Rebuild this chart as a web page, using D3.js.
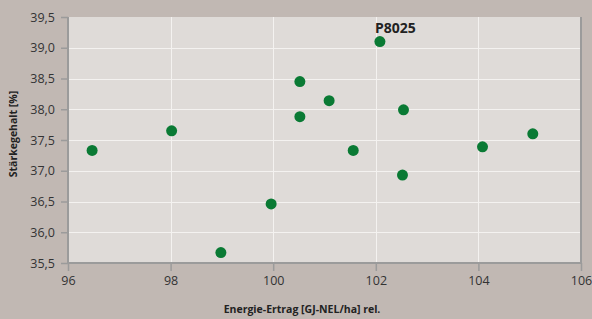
<!DOCTYPE html>
<html>
<head>
<meta charset="utf-8">
<script src="https://cdn.jsdelivr.net/npm/d3@7"></script>
<style>
  body { margin: 0; background: #c1b8b3; }
  svg { display: block; font-family: "Open Sans", sans-serif; }
</style>
</head>
<body>
<div class="container"></div>
<script>
// Energie-Ertrag (rel.) vs. Stärkegehalt
const energie = [96.47, 98.02, 98.98, 99.96, 100.52, 100.52, 101.09, 101.56, 102.08, 102.52, 102.54, 104.08, 105.06];
const staerke = [37.33, 37.65, 35.67, 36.46, 38.45, 37.88, 38.14, 37.33, 39.1, 36.93, 37.99, 37.39, 37.6];
const labels = ["", "", "", "", "", "", "", "", "P8025", "", "", "", ""];
const xTicks = [96, 98, 100, 102, 104, 106];
const yTicks = [35.5, 36, 36.5, 37, 37.5, 38, 38.5, 39, 39.5];

const width = 592;
const height = 319;
const margin = { top: 17, right: 11, bottom: 56, left: 68 };

const svg = d3.select(".container")
    .append("svg")
    .attr("width", width)
    .attr("height", height);

const x = d3.scaleLinear().domain([96, 106]).range([margin.left, width - margin.right]);
const y = d3.scaleLinear().domain([35.5, 39.5]).range([height - margin.bottom, margin.top]);

const fmt = d3.format(".1f");
const de = (v) => fmt(v).replace(".", ",");

// plot background
svg.append("rect")
    .attr("x", x(96))
    .attr("y", y(39.5))
    .attr("width", x(106) - x(96))
    .attr("height", y(35.5) - y(39.5))
    .attr("fill", "#dfdbd8");

// grid
svg.append("g")
    .selectAll("line")
    .data(yTicks.slice(1, -1))
    .join("line")
    .attr("x1", x(96))
    .attr("x2", x(106))
    .attr("y1", (d) => Math.round(y(d)) + 0.5)
    .attr("y2", (d) => Math.round(y(d)) + 0.5)
    .attr("stroke", "#f4f2f0")
    .attr("stroke-width", 1);

svg.append("g")
    .selectAll("line")
    .data(xTicks.slice(1, -1))
    .join("line")
    .attr("x1", (d) => Math.round(x(d)) + 0.5)
    .attr("x2", (d) => Math.round(x(d)) + 0.5)
    .attr("y1", y(39.5))
    .attr("y2", y(35.5))
    .attr("stroke", "#f4f2f0")
    .attr("stroke-width", 1);

// axes
const xAxis = svg.append("g")
    .attr("transform", `translate(0, ${y(35.5)})`)
    .call(d3.axisBottom(x).tickValues(xTicks).tickFormat(d3.format("d")).tickSize(8).tickPadding(5));

const yAxis = svg.append("g")
    .attr("transform", `translate(${x(96)}, 0)`)
    .call(d3.axisLeft(y).tickValues(yTicks).tickFormat(de).tickSize(7).tickPadding(6));

[xAxis, yAxis].forEach((g) => {
    g.select(".domain").attr("stroke", "#9b9b9b").attr("stroke-width", 2);
    g.selectAll(".tick line").attr("stroke", "#9b9b9b").attr("stroke-width", 1.5);
    g.selectAll(".tick text")
        .attr("fill", "#333")
        .attr("font-size", "12.5px")
        .attr("font-family", "Open Sans, sans-serif");
});
yAxis.select(".domain").attr("d", `M0,${y(35.5)}V${y(39.5)}`);
xAxis.select(".domain").attr("d", `M${x(96)},0H${x(106)}`);

// right border
svg.append("line")
    .attr("x1", x(106))
    .attr("x2", x(106))
    .attr("y1", y(39.5))
    .attr("y2", y(35.5))
    .attr("stroke", "#9b9b9b")
    .attr("stroke-width", 2);

// points
const pts = energie.map((e, i) => ({ x: e, y: staerke[i], label: labels[i] }));

svg.append("g")
    .selectAll("circle")
    .data(pts)
    .join("circle")
    .attr("cx", (d) => x(d.x))
    .attr("cy", (d) => y(d.y))
    .attr("r", 5.5)
    .attr("fill", "#0a7a34");

svg.append("g")
    .selectAll("text")
    .data(pts.filter((d) => d.label))
    .join("text")
    .attr("x", (d) => x(d.x) - 5)
    .attr("y", (d) => y(d.y) - 9)
    .attr("font-size", "14px")
    .attr("font-weight", "bold")
    .attr("fill", "#222")
    .text((d) => d.label);

// axis titles
svg.append("text")
    .attr("x", 302)
    .attr("y", 313)
    .attr("text-anchor", "middle")
    .attr("font-size", "10.5px")
    .attr("font-weight", "bold")
    .attr("fill", "#222")
    .text("Energie-Ertrag [GJ-NEL/ha] rel.");

svg.append("text")
    .attr("transform", "translate(17, 134) rotate(-90)")
    .attr("text-anchor", "middle")
    .attr("font-size", "10.5px")
    .attr("font-weight", "bold")
    .attr("fill", "#222")
    .text("Stärkegehalt [%]");
</script>
</body>
</html>
